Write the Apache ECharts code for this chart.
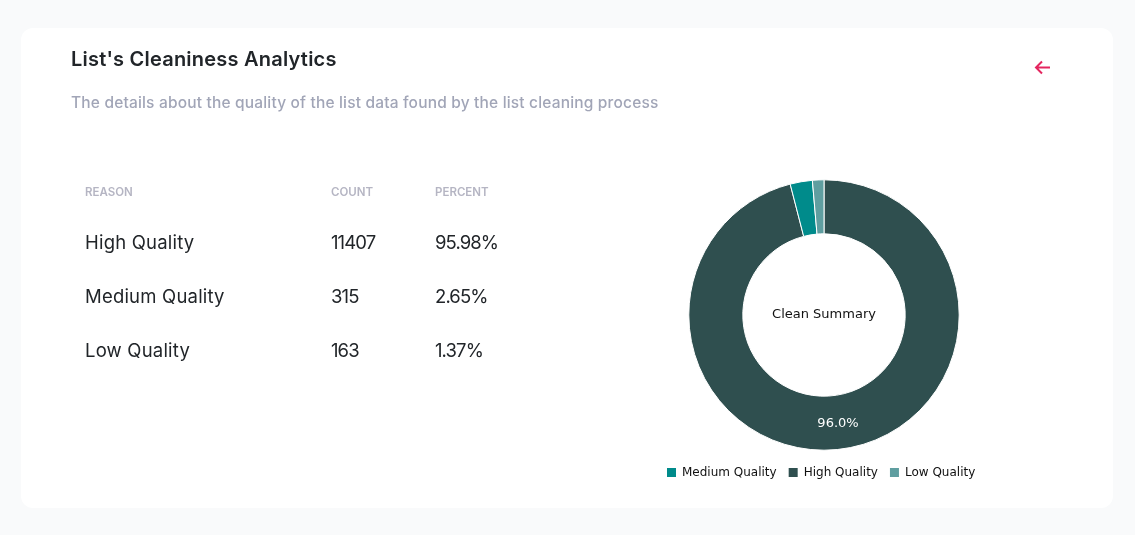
<!DOCTYPE html>
<html>
<head>
<meta charset="utf-8">
<script src="https://cdn.jsdelivr.net/npm/echarts@6/dist/echarts.min.js"></script>
<style>
  html, body { margin: 0; padding: 0; width: 1135px; height: 535px; overflow: hidden; background: #f9fafb; font-family: Inter, "Noto Sans", sans-serif; }
  .card { position: absolute; left: 21px; top: 28px; width: 1092px; height: 480px; background: #fff; border-radius: 12px; }
  #chart { position: absolute; left: 0; top: 0; width: 1135px; height: 535px; }
  .title { position: absolute; left: 71px; top: 46px; font-size: 20px; line-height: 26px; font-weight: 600; letter-spacing: 0.22px; color: #212529; white-space: nowrap; }
  .sub { position: absolute; left: 71px; top: 92px; font-size: 15.5px; line-height: 22px; font-weight: 500; letter-spacing: 0.175px; color: #a1a5b7; white-space: nowrap; }
  .cell { position: absolute; white-space: nowrap; }
  .head { font-size: 11.5px; line-height: 16px; font-weight: 600; color: #b5b5c3; }
  .row { font-size: 18.5px; line-height: 26px; color: #212529; }
  .name { letter-spacing: 0.2px; }
  .num { letter-spacing: -0.9px; }
  .back { position: absolute; left: 1033px; top: 58px; }
</style>
</head>
<body>
<div class="card"></div>
<div id="chart"></div>
<div class="title">List's Cleaniness Analytics</div>
<div class="sub">The details about the quality of the list data found by the list cleaning process</div>
<svg class="back" width="20" height="20" viewBox="0 0 20 20"><path d="M17 9.5H3.5M9 3.5L3 9.5L9 15.5" fill="none" stroke="#e4265f" stroke-width="2"/></svg>
<div id="table"></div>
<script>
const columns = ["REASON", "COUNT", "PERCENT"];
const reasons = ["High Quality", "Medium Quality", "Low Quality"];
const counts = [11407, 315, 163];
const percents = ["95.98%", "2.65%", "1.37%"];
const legendOrder = ["Medium Quality", "High Quality", "Low Quality"];
const colors = ["#2f4f4f", "#008b8b", "#5f9ea0"];

// table on the left
const colX = [85, 331, 435];
const table = document.getElementById("table");
function addCell(text, cls, x, y) {
  const el = document.createElement("div");
  el.className = "cell " + cls;
  el.style.left = x + "px";
  el.style.top = y + "px";
  el.textContent = text;
  table.appendChild(el);
}
columns.forEach((c, i) => addCell(c, "head", colX[i], 184));
reasons.forEach((r, i) => {
  const y = 229 + i * 54;
  addCell(r, "row name", colX[0], y);
  addCell(counts[i], "row num", colX[1], y);
  addCell(percents[i], "row num", colX[2], y);
});

const chart = echarts.init(document.getElementById("chart"), null, { renderer: "canvas" });
chart.setOption({
  animation: false,
  backgroundColor: "transparent",
  title: {
    text: "Clean Summary",
    left: 824,
    top: 315,
    padding: 0,
    textAlign: "center",
    textVerticalAlign: "middle",
    textStyle: { fontFamily: "DejaVu Sans", fontSize: 13, fontWeight: "normal", color: "#111" },
  },
  legend: {
    data: legendOrder,
    left: 665,
    top: 466,
    padding: 0,
    itemWidth: 11,
    itemHeight: 11,
    itemGap: 10,
    icon: "rect",
    textStyle: { fontFamily: "DejaVu Sans", fontSize: 12, color: "#111" },
  },
  series: [
    {
      type: "pie",
      center: [824, 315],
      radius: [81.2, 135.2],
      startAngle: 90,
      clockwise: true,
      silent: true,
      itemStyle: { borderColor: "#fff", borderWidth: 1 },
      labelLine: { show: false },
      data: reasons.map((r, i) => ({
        name: r,
        value: counts[i],
        itemStyle: { color: colors[i] },
        label: {
          show: i === 0,
          position: "inside",
          formatter: (p) => p.percent.toFixed(1) + "%",
          offset: [0, -2],
          fontFamily: "DejaVu Sans",
          fontSize: 13,
          color: "#fff",
        },
      })),
    },
  ],
});
</script>
</body>
</html>
